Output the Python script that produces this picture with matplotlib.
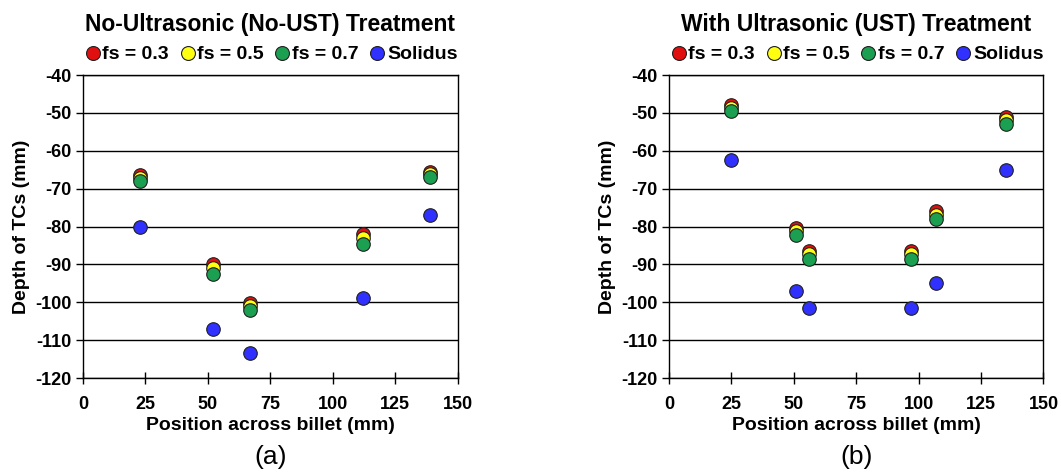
import matplotlib
matplotlib.use("Agg")
import matplotlib.pyplot as plt
from matplotlib.lines import Line2D

plt.rcParams['font.family'] = ['Liberation Sans', 'DejaVu Sans']
plt.rcParams['axes.unicode_minus'] = False

# Panel (a): no ultrasonic treatment
pos_a = [23, 52, 67, 112, 139]
fs03_a = [-66.5, -90.0, -100.3, -82.0, -65.5]
fs05_a = [-67.2, -91.0, -101.0, -83.0, -66.2]
fs07_a = [-68.0, -92.5, -102.0, -84.5, -67.0]
sol_a = [-80.0, -107.0, -113.5, -99.0, -77.0]

# Panel (b): with ultrasonic treatment
pos_b = [25, 51, 56, 97, 107, 135]
fs03_b = [-48.0, -80.5, -86.5, -86.5, -76.0, -51.0]
fs05_b = [-48.7, -81.2, -87.2, -87.2, -77.0, -52.0]
fs07_b = [-49.5, -82.2, -88.5, -88.5, -78.0, -53.0]
sol_b = [-62.5, -97.0, -101.5, -101.5, -95.0, -65.0]

titles = ["No-Ultrasonic (No-UST) Treatment", "With Ultrasonic (UST) Treatment"]
panel_tags = ["(a)", "(b)"]
series_labels = ["fs = 0.3", "fs = 0.5", "fs = 0.7", "Solidus"]
colors = ["#e01010", "#ffff10", "#1aa050", "#3030ff"]

fig = plt.figure(figsize=(10.61, 4.74), dpi=100)
lefts = [0.0782, 0.6305]
panels = [(pos_a, [fs03_a, fs05_a, fs07_a, sol_a]),
          (pos_b, [fs03_b, fs05_b, fs07_b, sol_b])]

for left, (pos, series), title, tag in zip(lefts, panels, titles, panel_tags):
    ax = fig.add_axes([left, 0.2025, 0.3530, 0.6392])
    for vals, col in zip(series, colors):
        ax.scatter(pos, vals, s=95, color=col, edgecolor="#202020",
                   linewidth=0.8, zorder=3)
    ax.set_xlim(0, 150)
    ax.set_ylim(-120, -40)
    ax.set_xticks(range(0, 151, 25))
    ax.set_yticks(range(-120, -39, 10))
    ax.yaxis.grid(True, color="black", linewidth=1.0)
    ax.set_axisbelow(True)
    for sp in ax.spines.values():
        sp.set_color("black")
        sp.set_linewidth(1.0)
    ax.tick_params(axis="x", direction="inout", length=8, width=1.0,
                   labelsize=13, pad=9)
    ax.tick_params(axis="y", direction="out", length=5, width=1.0,
                   labelsize=13, pad=3)
    for lab in ax.get_xticklabels() + ax.get_yticklabels():
        lab.set_fontweight("bold")
    ax.set_xlabel("Position across billet (mm)", fontsize=14,
                  fontweight="bold", labelpad=3)
    ax.set_ylabel("Depth of TCs (mm)", fontsize=14, fontweight="bold",
                  labelpad=4)
    ax.set_title(title, fontsize=16.5, fontweight="bold", pad=32)
    handles = [Line2D([], [], linestyle="none", marker="o", markersize=10,
                      markerfacecolor=c, markeredgecolor="#202020",
                      markeredgewidth=0.8) for c in colors]
    leg = ax.legend(handles, series_labels, loc="lower center",
                    bbox_to_anchor=(0.5, 1.0), ncol=4, frameon=False,
                    handletextpad=0.0, columnspacing=0.45, handlelength=1.0,
                    borderaxespad=0.2,
                    prop={"weight": "bold", "size": 14})
    ax.text(0.5, -0.26, tag, transform=ax.transAxes, ha="center",
            va="center", fontsize=19)

fig.savefig("out.png", dpi=100)
